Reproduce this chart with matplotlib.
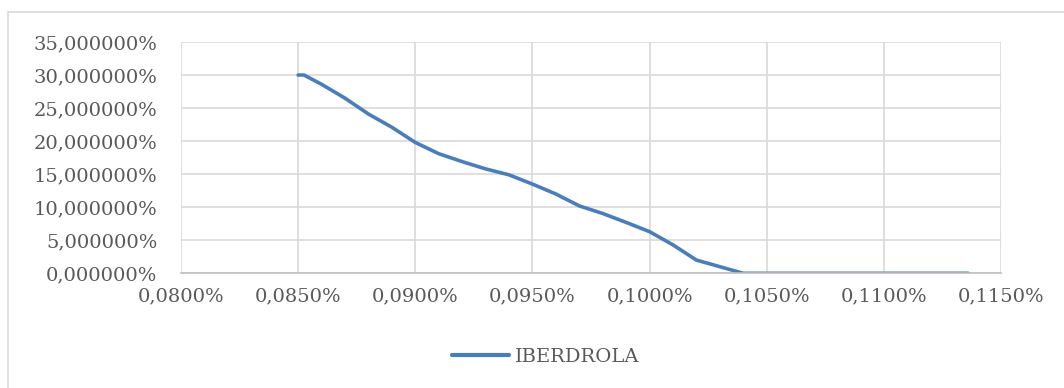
import matplotlib
matplotlib.use("Agg")
import matplotlib.pyplot as plt
from matplotlib.ticker import FuncFormatter
from matplotlib.patches import Rectangle

# Price (as % of nominal) vs probability (%)
x_vals = [0.0850, 0.08525, 0.0860, 0.0870, 0.0880, 0.0890, 0.0900, 0.0910, 0.0920,
          0.0930, 0.0940, 0.0950, 0.0960, 0.0970, 0.0980, 0.0990, 0.1000,
          0.1010, 0.1020, 0.1030, 0.1040, 0.1050, 0.1060, 0.1070, 0.1080,
          0.1090, 0.1100, 0.1110, 0.1120, 0.1130, 0.1136]
y_vals = [30.0, 30.0, 28.6, 26.5, 24.1, 22.1, 19.8, 18.1, 16.9,
          15.8, 14.9, 13.5, 12.0, 10.2, 9.05, 7.7, 6.3,
          4.3, 2.0, 1.0, 0.0, 0.0, 0.0, 0.0, 0.0,
          0.0, 0.0, 0.0, 0.0, 0.0, 0.0]
series_name = "IBERDROLA"

x_ticks = [0.0800, 0.0850, 0.0900, 0.0950, 0.1000, 0.1050, 0.1100, 0.1150]
y_ticks = [0, 5, 10, 15, 20, 25, 30, 35]

W, H = 1064, 388
fig = plt.figure(figsize=(W / 100, H / 100), dpi=100)
plt.rcParams['font.family'] = ['DejaVu Serif']

# chart-area frame
fig.patches.append(Rectangle((8 / W, -0.05), 1.1, 1 - 12 / H + 0.05,
                             transform=fig.transFigure, fill=False,
                             edgecolor="#D9D9D9", linewidth=1.2))

ax = fig.add_axes([181 / W, 1 - 273.3 / H, (1001 - 181) / W, (273.3 - 42) / H])

line_color = "#4A7EBB"
ax.plot(x_vals, y_vals, color=line_color, linewidth=2.6,
        solid_joinstyle="round", solid_capstyle="round", label=series_name)

ax.set_xlim(x_ticks[0], x_ticks[-1])
ax.set_ylim(y_ticks[0], y_ticks[-1])
ax.set_xticks(x_ticks)
ax.set_yticks(y_ticks)

ax.xaxis.set_major_formatter(FuncFormatter(lambda v, p: f"{v:.4f}%".replace(".", ",")))
ax.yaxis.set_major_formatter(FuncFormatter(lambda v, p: f"{v:.6f}%".replace(".", ",")))

ax.grid(True, color="#D9D9D9", linewidth=1.2)
ax.set_axisbelow(True)
for s in ["top", "right", "left"]:
    ax.spines[s].set_visible(False)
ax.spines["bottom"].set_color("#BFBFBF")
ax.spines["bottom"].set_linewidth(1.2)

fs = 14.0
ax.tick_params(axis="both", length=0, labelsize=fs, colors="#595959")
ax.tick_params(axis="y", pad=17)
ax.tick_params(axis="x", pad=10)

leg = fig.legend(loc="center", bbox_to_anchor=(546 / W, 1 - 357 / H),
                 frameon=False, fontsize=fs, handlelength=2.9,
                 handletextpad=0.35)
for t in leg.get_texts():
    t.set_color("#595959")
for h in leg.legend_handles:
    h.set_linewidth(3.0)

fig.savefig("out.png", dpi=100)
